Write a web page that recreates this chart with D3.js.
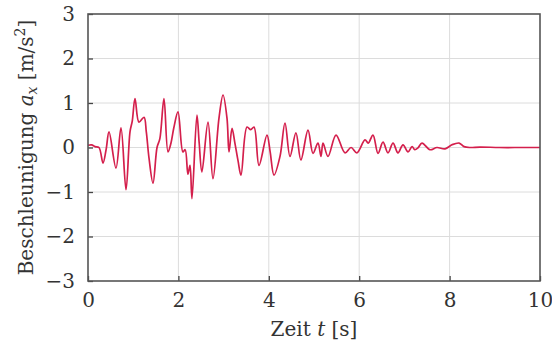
<!DOCTYPE html>
<html>
<head>
<meta charset="utf-8">
<script src="https://cdn.jsdelivr.net/npm/d3@7"></script>
<style>
  html, body { margin: 0; padding: 0; background: #fff; }
  svg { display: block; }
  text { font-family: "DejaVu Serif", "Liberation Serif", serif; fill: #333; }
</style>
</head>
<body>
<svg id="chart" width="552" height="349"></svg>
<script>
// Acceleration record: time [s] and acceleration a_x [m/s²]
const time = [0, 0.08, 0.155, 0.243, 0.332, 0.40, 0.465, 0.619, 0.730, 0.841, 0.929, 0.98, 1.04, 1.128,
  1.239, 1.29, 1.35, 1.438, 1.527, 1.59, 1.681, 1.77, 1.836, 1.90, 1.991, 2.10, 2.15, 2.21, 2.257,
  2.30, 2.41, 2.46, 2.52, 2.655, 2.765, 2.898, 2.987, 3.075, 3.12, 3.186, 3.25, 3.32, 3.385,
  3.518, 3.60, 3.673, 3.783, 3.96, 4.03, 4.115, 4.248, 4.358, 4.469, 4.60, 4.71, 4.867, 4.978,
  5.088, 5.155, 5.20, 5.31, 5.487, 5.686, 5.82, 5.95, 6.128, 6.20, 6.305, 6.416, 6.527, 6.637,
  6.748, 6.858, 6.969, 7.08, 7.17, 7.23, 7.30, 7.39, 7.566, 7.72, 7.90, 8.05, 8.21, 8.32,
  8.45, 8.67, 9.10, 9.6, 10];
const accel = [0.05, 0.06, 0.02, 0.0, -0.35, -0.05, 0.35, -0.46, 0.44, -0.95, 0.35, 0.6, 1.1, 0.57,
  0.68, 0.35, -0.24, -0.8, 0.0, 0.2, 1.1, -0.1, 0.1, 0.45, 0.8, -0.1, -0.05, -0.6, -0.4,
  -1.15, 0.73, 0.1, -0.55, 0.57, -0.7, 0.66, 1.18, 0.66, -0.1, 0.43, 0.1, -0.3, -0.62,
  0.46, 0.4, 0.46, -0.4, 0.28, -0.1, -0.62, -0.2, 0.55, -0.2, 0.33, -0.28, 0.39, -0.13,
  0.1, -0.2, 0.1, -0.2, 0.28, -0.12, 0.0, -0.12, 0.17, 0.1, 0.28, -0.13, 0.12, -0.12,
  0.1, -0.12, 0.06, -0.1, 0.02, -0.05, -0.01, 0.1, -0.05, 0.0, -0.03, 0.06, 0.1, 0.02,
  0.0, 0.01, 0.0, 0.0, 0.0];
const xTicks = [0, 2, 4, 6, 8, 10];
const yTicks = [-3, -2, -1, 0, 1, 2, 3];

const svg = d3.select("#chart");
const margin = { left: 88, right: 12, top: 14, bottom: 68 };
const W = 552, H = 349;
const x = d3.scaleLinear().domain([0, 10]).range([margin.left, W - margin.right]);
const y = d3.scaleLinear().domain([-3, 3]).range([H - margin.bottom, margin.top]);

// grid
const grid = svg.append("g").attr("stroke", "#dcdcdc").attr("stroke-width", 1);
grid.selectAll(".gx").data(xTicks.slice(1, -1)).join("line")
  .attr("x1", d => x(d)).attr("x2", d => x(d))
  .attr("y1", y(-3)).attr("y2", y(3));
grid.selectAll(".gy").data(yTicks.slice(1, -1)).join("line")
  .attr("x1", x(0)).attr("x2", x(10))
  .attr("y1", d => y(d)).attr("y2", d => y(d));

// signal
const data = time.map((t, i) => ({ t, a: accel[i] }));
svg.append("path")
  .datum(data)
  .attr("fill", "none")
  .attr("stroke", "#d41f4c")
  .attr("stroke-width", 1.7)
  .attr("stroke-linejoin", "round")
  .attr("d", d3.line().curve(d3.curveCatmullRom.alpha(0.5)).x(d => x(d.t)).y(d => y(d.a)));

// axes with inward ticks
const xAxis = svg.append("g").attr("transform", `translate(0,${y(-3)})`)
  .call(d3.axisBottom(x).tickValues(xTicks).tickSizeInner(-5).tickSizeOuter(0).tickPadding(12));
const yAxis = svg.append("g").attr("transform", `translate(${x(0)},0)`)
  .call(d3.axisLeft(y).tickValues(yTicks).tickSizeInner(-5).tickSizeOuter(0).tickPadding(13)
    .tickFormat(d => d < 0 ? "\u2212" + Math.abs(d) : d));
[xAxis, yAxis].forEach(g => {
  g.select(".domain").remove();
  g.selectAll(".tick line").attr("stroke", "#444").attr("stroke-width", 1.3);
  g.selectAll(".tick text").attr("font-size", 20).attr("fill", "#333")
    .attr("font-family", "DejaVu Serif, serif");
});

// frame
svg.append("rect")
  .attr("x", x(0)).attr("y", y(3))
  .attr("width", x(10) - x(0)).attr("height", y(-3) - y(3))
  .attr("fill", "none").attr("stroke", "#555").attr("stroke-width", 1.6);

// axis titles
const xl = svg.append("text").attr("x", (x(0) + x(10)) / 2).attr("y", 336)
  .attr("text-anchor", "middle").attr("font-size", 20);
xl.append("tspan").text("Zeit ");
xl.append("tspan").attr("font-style", "italic").text("t");
xl.append("tspan").text(" [s]");

const yl = svg.append("text")
  .attr("transform", `translate(33,${(y(-3) + y(3)) / 2}) rotate(-90)`)
  .attr("text-anchor", "middle").attr("font-size", 20);
yl.append("tspan").text("Beschleunigung ");
yl.append("tspan").attr("font-style", "italic").text("a");
yl.append("tspan").attr("font-style", "italic").attr("font-size", 14).attr("dy", 4).text("x");
yl.append("tspan").attr("dy", -4).text(" [m/s");
yl.append("tspan").attr("font-size", 14).attr("dy", -8).text("2");
yl.append("tspan").attr("dy", 8).text("]");
</script>
</body>
</html>
